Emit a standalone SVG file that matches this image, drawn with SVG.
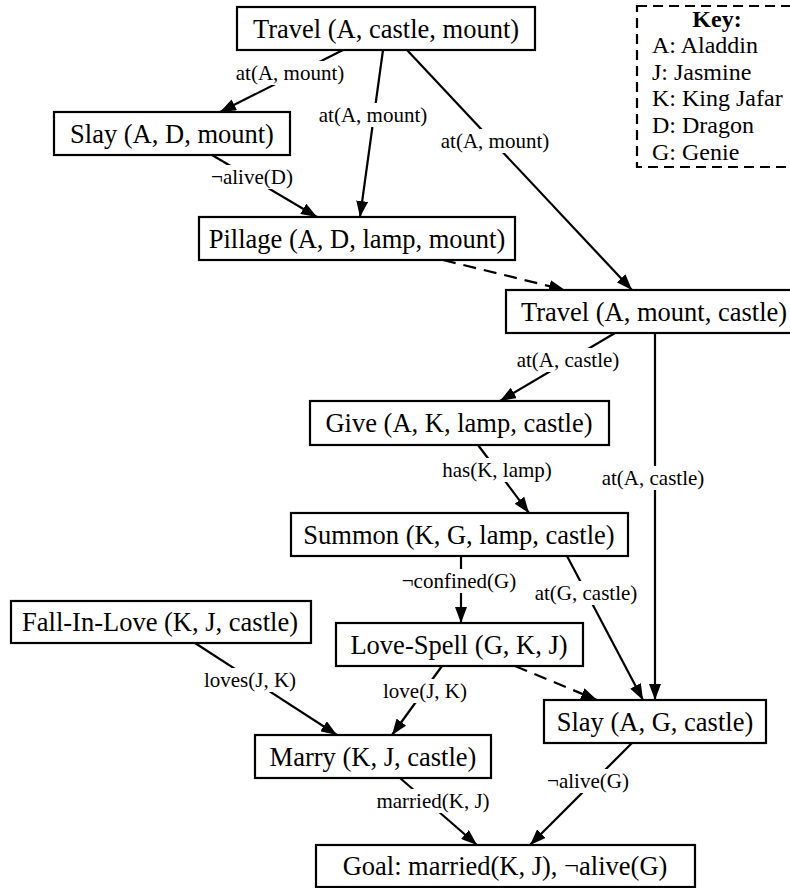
<svg xmlns="http://www.w3.org/2000/svg" width="790" height="888" viewBox="0 0 790 888">
<style>
text{font-family:'Liberation Serif',Tinos,'Times New Roman',Times,'Nimbus Roman','DejaVu Serif',serif;fill:#000}
.box{fill:#fff;stroke:#000;stroke-width:2.2}
.nt{font-size:26.5px;text-anchor:middle}
.el{font-size:21px;text-anchor:middle}
.kt{font-size:24px}
.e{fill:none;stroke:#000;stroke-width:2.2;marker-end:url(#ah)}
.d{stroke-dasharray:13 8}
.bg{fill:#fff;stroke:none}
</style>
<defs>
<marker id="ah" markerUnits="userSpaceOnUse" markerWidth="16" markerHeight="12" refX="16" refY="6" orient="auto">
<path d="M0,0 L16,6 L0,12 Z" fill="#000"/>
</marker>
</defs>
<rect width="790" height="888" fill="#fff"/>
<g id="connectors">
<path class="e" d="M343,50 L220,112"/>
<path class="e" d="M383,50 L360,217"/>
<path class="e" d="M407,50 L632,290"/>
<path class="e" d="M212,155 L317,217"/>
<path class="e d" d="M443,260 L565,290"/>
<path class="e" d="M615,333 L500,401"/>
<path class="e" d="M655,333 L655,700"/>
<path class="e" d="M478,445 L529,513"/>
<path class="e" d="M461,556 L461,623"/>
<path class="e" d="M567,556 L643,700"/>
<path class="e d" d="M515,666 L597,700"/>
<path class="e" d="M195,643 L337,735"/>
<path class="e" d="M442,666 L392,735"/>
<path class="e" d="M400,778 L477,845"/>
<path class="e" d="M632,743 L530,845"/>
<rect class="bg" x="233" y="61" width="114" height="24"/>
<text class="el" x="290" y="80">at(A, mount)</text>
<rect class="bg" x="316" y="103" width="114" height="24"/>
<text class="el" x="373" y="122">at(A, mount)</text>
<rect class="bg" x="438" y="129" width="114" height="24"/>
<text class="el" x="495" y="148">at(A, mount)</text>
<rect class="bg" x="208" y="165" width="88" height="24"/>
<text class="el" x="252" y="184">¬alive(D)</text>
<rect class="bg" x="515" y="348" width="106" height="24"/>
<text class="el" x="568" y="367">at(A, castle)</text>
<rect class="bg" x="600" y="466" width="106" height="24"/>
<text class="el" x="653" y="485">at(A, castle)</text>
<rect class="bg" x="441" y="458" width="112" height="24"/>
<text class="el" x="497" y="477">has(K, lamp)</text>
<rect class="bg" x="400" y="569" width="118" height="24"/>
<text class="el" x="459" y="588">¬confined(G)</text>
<rect class="bg" x="533" y="581" width="106" height="24"/>
<text class="el" x="586" y="600">at(G, castle)</text>
<rect class="bg" x="203" y="668" width="94" height="24"/>
<text class="el" x="250" y="687">loves(J, K)</text>
<rect class="bg" x="381" y="679" width="88" height="24"/>
<text class="el" x="425" y="698">love(J, K)</text>
<rect class="bg" x="374" y="789" width="118" height="24"/>
<text class="el" x="433" y="808">married(K, J)</text>
<rect class="bg" x="544" y="769" width="88" height="24"/>
<text class="el" x="588" y="788">¬alive(G)</text>
</g>
<g id="key">
<rect x="637" y="6" width="170" height="161" fill="#fff" stroke="#000" stroke-width="2.2" stroke-dasharray="10 6"/>
<text class="kt" x="717" y="27" text-anchor="middle" font-weight="bold">Key:</text>
<text class="kt" x="652" y="53">A: Aladdin</text>
<text class="kt" x="652" y="80">J: Jasmine</text>
<text class="kt" x="652" y="106">K: King Jafar</text>
<text class="kt" x="652" y="133">D: Dragon</text>
<text class="kt" x="652" y="160">G: Genie</text>
</g>
<g id="n-travel1"><rect class="box" x="237" y="7" width="298" height="43"/><text class="nt" x="386" y="38">Travel (A, castle, mount)</text></g>
<g id="n-slay1"><rect class="box" x="54" y="112" width="236" height="43"/><text class="nt" x="172" y="143">Slay (A, D, mount)</text></g>
<g id="n-pillage"><rect class="box" x="199" y="217" width="316" height="43"/><text class="nt" x="357" y="248">Pillage (A, D, lamp, mount)</text></g>
<g id="n-travel2"><rect class="box" x="506" y="290" width="300" height="43"/><text class="nt" x="654" y="321">Travel (A, mount, castle)</text></g>
<g id="n-give"><rect class="box" x="310" y="401" width="299" height="44"/><text class="nt" x="459" y="432">Give (A, K, lamp, castle)</text></g>
<g id="n-summon"><rect class="box" x="291" y="513" width="337" height="43"/><text class="nt" x="459" y="544">Summon (K, G, lamp, castle)</text></g>
<g id="n-fall"><rect class="box" x="11" y="601" width="300" height="42"/><text class="nt" x="160" y="631">Fall-In-Love (K, J, castle)</text></g>
<g id="n-lovespell"><rect class="box" x="336" y="623" width="247" height="43"/><text class="nt" x="459" y="654">Love-Spell (G, K, J)</text></g>
<g id="n-slay2"><rect class="box" x="544" y="700" width="222" height="43"/><text class="nt" x="655" y="731">Slay (A, G, castle)</text></g>
<g id="n-marry"><rect class="box" x="255" y="735" width="236" height="43"/><text class="nt" x="373" y="766">Marry (K, J, castle)</text></g>
<g id="n-goal"><rect class="box" x="316" y="845" width="379" height="42"/><text class="nt" x="505" y="875">Goal: married(K, J), ¬alive(G)</text></g>
</svg>
